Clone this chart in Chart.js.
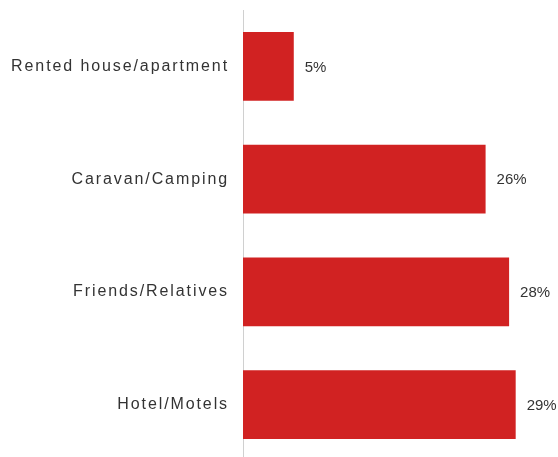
<!DOCTYPE html>
<html>
<head>
<meta charset="utf-8">
<script src="https://cdn.jsdelivr.net/npm/chart.js@4"></script>
<style>
    html,body{margin:0;padding:0;background:#fff;overflow:hidden;}
    #wrap{width:558px;height:461px;position:relative;}
</style>
</head>
<body>
<div id="wrap"><canvas id="chart"></canvas></div>
<script>
const categories=["Rented house/apartment","Caravan/Camping","Friends/Relatives","Hotel/Motels"];
const values=[5.4,25.8,28.3,29.0];
const valueLabels=["5%","26%","28%","29%"];

const barColor="#d12222";
const textColor="#333333";

// draw the percentages just right of each bar
const barLabels={
    id:"barLabels",
    afterDatasetsDraw(chart){
        const ctx=chart.ctx;
        const meta=chart.getDatasetMeta(0);
        ctx.save();
        ctx.letterSpacing="0px";
        ctx.font="15px 'Liberation Sans', Arial, sans-serif";
        ctx.fillStyle=textColor;
        ctx.textAlign="left";
        ctx.textBaseline="middle";
        meta.data.forEach((bar,i)=>{
            ctx.fillText(valueLabels[i],bar.x+11,bar.y+1);
        });
        ctx.restore();
    }
};

// wide letter spacing on the category labels
const spacing={
    id:"spacing",
    beforeDraw(chart){ chart.ctx.letterSpacing="1.9px"; },
    afterDraw(chart){ chart.ctx.letterSpacing="0px"; }
};

new Chart(document.getElementById("chart"),{
    type:"bar",
    data:{
        labels:categories,
        datasets:[{
            data:values,
            backgroundColor:barColor,
            borderWidth:0,
            barPercentage:0.61,
            categoryPercentage:1
        }]
    },
    options:{
        indexAxis:"y",
        responsive:true,
        maintainAspectRatio:false,
        animation:false,
        layout:{padding:{top:10,right:0,bottom:0,left:0}},
        plugins:{legend:{display:false},tooltip:{enabled:false}},
        scales:{
            x:{display:false,min:0,max:33.5},
            y:{
                grid:{display:false,drawTicks:false},
                border:{display:true,color:"#d0d0d0",width:1},
                ticks:{
                    color:textColor,
                    padding:14,
                    font:{family:"'Liberation Sans', Arial, sans-serif",size:16}
                },
                afterFit(scale){
                    scale.width=243;
                    scale.paddingTop=0;
                    scale.paddingBottom=0;
                }
            }
        }
    },
    plugins:[barLabels,spacing]
});
</script>
</body>
</html>
